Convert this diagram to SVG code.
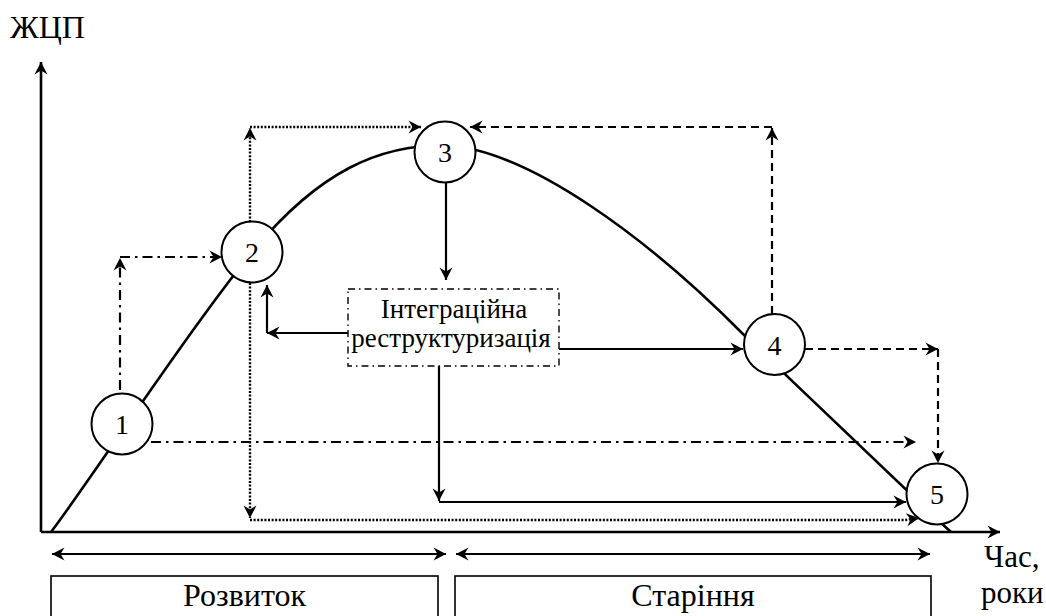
<svg xmlns="http://www.w3.org/2000/svg" width="1046" height="616" viewBox="0 0 1046 616">
  <style>
    text { font-family: "Liberation Serif", "Times New Roman", Times, "Nimbus Roman", "Nimbus Roman No9 L", FreeSerif, Tinos, "DejaVu Serif", "Noto Serif", Georgia, serif; fill: #000; }
    .axis { stroke: #000; stroke-width: 2.6; fill: none; }
    .curve { stroke: #000; stroke-width: 2.6; fill: none; }
    .solid { stroke: #000; stroke-width: 2.2; fill: none; }
    .dashdot { stroke: #000; stroke-width: 2.2; fill: none; stroke-dasharray: 10 5 2.5 5; }
    .dotted { stroke: #000; stroke-width: 2.4; fill: none; stroke-dasharray: 2 1.6; }
    .dashed { stroke: #000; stroke-width: 2.2; fill: none; stroke-dasharray: 8 5; }
    .node circle { fill: #fff; stroke: #000; stroke-width: 2; }
    .num { font-size: 28px; text-anchor: middle; }
    .phase { fill: #fff; stroke: #000; stroke-width: 1.6; }
  </style>
  <defs>
    <marker id="ah" viewBox="-13 -7 14 14" refX="0" refY="0" markerWidth="14" markerHeight="14" markerUnits="userSpaceOnUse" orient="auto-start-reverse">
      <path d="M0,0 L-12.5,-6.5 L-8.5,0 L-12.5,6.5 Z" fill="#000"/>
    </marker>
  </defs>

  <rect width="1046" height="616" fill="#fff"/>

  <!-- axes -->
  <g id="axes">
    <path class="axis" d="M41,532 V62" marker-end="url(#ah)"/>
    <path class="axis" d="M41,532 H1000" marker-end="url(#ah)"/>
    <text x="10" y="38" font-size="32">ЖЦП</text>
    <text x="984" y="567" font-size="31">Час,</text>
    <text x="981" y="603" font-size="31">роки</text>
  </g>

  <!-- life-cycle curve -->
  <g id="curve">
    <path class="curve" d="M51,532 C85,488 185,335 252,252 C320,170 380,145 445,145 C530,150 650,240 744,335 L940,522 L951,532"/>
  </g>

  <!-- connectors -->
  <g id="connectors">
    <!-- from stage 1 -->
    <path class="dashdot" d="M120,390 V258" marker-end="url(#ah)"/>
    <path class="dashdot" d="M120,257 H222" marker-end="url(#ah)"/>
    <path class="dashdot" d="M151,442 H916" marker-end="url(#ah)"/>
    <!-- from stage 2 -->
    <path class="dotted" d="M250,222 V128" marker-end="url(#ah)"/>
    <path class="dotted" d="M250,127 H421" marker-end="url(#ah)"/>
    <path class="dotted" d="M250,283 V518" marker-end="url(#ah)"/>
    <path class="dotted" d="M250,520 H905 L919,518" marker-end="url(#ah)"/>
    <!-- from stage 3 -->
    <path class="solid" d="M446,183 V280" marker-end="url(#ah)"/>
    <!-- from integration restructuring -->
    <path class="solid" d="M348,333 H267" marker-end="url(#ah)"/>
    <path class="solid" d="M267,333 V285" marker-end="url(#ah)"/>
    <path class="solid" d="M558,349 H743" marker-end="url(#ah)"/>
    <path class="solid" d="M439,366 V501" marker-end="url(#ah)"/>
    <path class="solid" d="M439,502 H906" marker-end="url(#ah)"/>
    <!-- from stage 4 -->
    <path class="dashed" d="M772,314 V128" marker-end="url(#ah)"/>
    <path class="dashed" d="M772,127 H470" marker-end="url(#ah)"/>
    <path class="dashed" d="M805,349 H938" marker-end="url(#ah)"/>
    <path class="dashed" d="M938,349 V463" marker-end="url(#ah)"/>
  </g>

  <!-- stages -->
  <g id="node-1" class="node">
    <circle cx="122" cy="424" r="30.5"/>
    <text class="num" x="122" y="434">1</text>
  </g>
  <g id="node-2" class="node">
    <circle cx="252" cy="252" r="30.5"/>
    <text class="num" x="252" y="262">2</text>
  </g>
  <g id="node-3" class="node">
    <circle cx="445" cy="152" r="30.5"/>
    <text class="num" x="445" y="162">3</text>
  </g>
  <g id="node-4" class="node">
    <circle cx="774.5" cy="344.5" r="30.5"/>
    <text class="num" x="774.5" y="354.5">4</text>
  </g>
  <g id="node-5" class="node">
    <circle cx="937" cy="494" r="30.5"/>
    <text class="num" x="937" y="504">5</text>
  </g>

  <!-- integration restructuring box -->
  <g id="node-integration">
    <rect x="348" y="289" width="211" height="77" fill="#fff" stroke="#000" stroke-width="1.4" stroke-dasharray="7 4 1.5 4"/>
    <text x="454" y="318" font-size="27" text-anchor="middle">Інтеграційна</text>
    <text x="451" y="347" font-size="27" text-anchor="middle">реструктуризація</text>
  </g>

  <!-- phases along the time axis -->
  <g id="phases">
    <path class="solid" d="M446,554 H52" marker-end="url(#ah)" marker-start="url(#ah)"/>
    <path class="solid" d="M456,554 H930" marker-end="url(#ah)" marker-start="url(#ah)"/>
    <g id="phase-development">
      <rect class="phase" x="51" y="576" width="387" height="50"/>
      <text x="244.5" y="606" font-size="32" text-anchor="middle">Розвиток</text>
    </g>
    <g id="phase-ageing">
      <rect class="phase" x="455" y="576" width="476" height="50"/>
      <text x="693" y="606" font-size="32" text-anchor="middle">Старіння</text>
    </g>
  </g>
</svg>
